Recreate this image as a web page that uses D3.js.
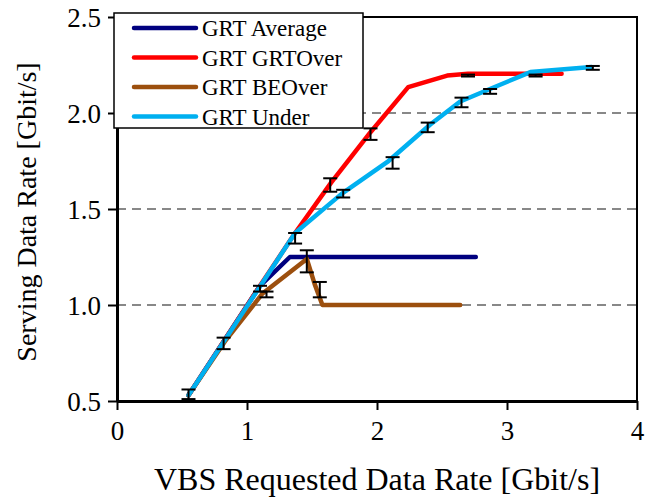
<!DOCTYPE html>
<html>
<head>
<meta charset="utf-8">
<script src="https://cdn.jsdelivr.net/npm/d3@7"></script>
<style>
  body { margin: 0; background: #fff; }
  svg { display: block; }
</style>
</head>
<body>
<div id="chart"></div>
<script>
const xTicks = [0, 1, 2, 3, 4];
const yTicks = [0.5, 1.0, 1.5, 2.0, 2.5];

const seriesNames = ["GRT Average", "GRT GRTOver", "GRT BEOver", "GRT Under"];
const seriesColors = ["#00007f", "#ff0000", "#9c4f0e", "#00b0f0"];

const grtAverage = [[0.55, 0.53], [1.1, 1.1], [1.33, 1.25], [2.76, 1.25]];
const grtOver = [[0.55, 0.53], [1.1, 1.1], [1.37, 1.375], [1.65, 1.64], [1.95, 1.9],
                 [2.24, 2.135], [2.54, 2.195], [2.7, 2.205], [3.2, 2.205], [3.42, 2.205]];
const beOver = [[0.55, 0.53], [0.83, 0.81], [1.12, 1.06], [1.46, 1.24], [1.52, 1.11],
                [1.58, 1.0], [2.64, 1.0]];
const grtUnder = [[0.55, 0.53], [1.37, 1.375], [1.73, 1.58], [2.08, 1.745], [2.41, 1.94],
                  [2.64, 2.06], [2.85, 2.12], [3.18, 2.213], [3.65, 2.24]];

// error bars: requested rate, low, high
const errX    = [0.55, 0.82, 1.1,  1.15, 1.37, 1.46, 1.56, 1.64, 1.74, 1.95, 2.12, 2.39, 2.65, 2.87, 2.7,  3.22, 3.66];
const errLow  = [0.51, 0.77, 1.07, 1.04, 1.32, 1.17, 1.04, 1.59, 1.56, 1.86, 1.71, 1.90, 2.03, 2.10, 2.19, 2.19, 2.225];
const errHigh = [0.56, 0.83, 1.10, 1.07, 1.375, 1.285, 1.12, 1.66, 1.60, 1.92, 1.77, 1.95, 2.08, 2.125, 2.20, 2.20, 2.245];

const width = 662, height = 498;
const margin = { top: 17, right: 25, bottom: 97, left: 117 };
const w = width - margin.left - margin.right;
const h = height - margin.top - margin.bottom;
const font = "'Liberation Serif', 'Times New Roman', serif";

const svg = d3.select("#chart").append("svg")
    .attr("width", width)
    .attr("height", height)
    .style("font-family", font);

const g = svg.append("g").attr("transform", `translate(${margin.left},${margin.top})`);

const x = d3.scaleLinear().domain([0, 4]).range([0, w]);
const y = d3.scaleLinear().domain([0.5, 2.5]).range([h, 0]);

// dashed grid
g.selectAll(".grid")
    .data(yTicks.slice(1, 4))
    .enter().append("line")
    .attr("x1", 0).attr("x2", w)
    .attr("y1", d => y(d)).attr("y2", d => y(d))
    .attr("stroke", "#888")
    .attr("stroke-width", 2)
    .attr("stroke-dasharray", "9,6");

// frame top / right
g.append("path")
    .attr("d", `M0,${y(2.5)}H${w}V${h}`)
    .attr("fill", "none")
    .attr("stroke", "#000")
    .attr("stroke-width", 2);

// axes
const xAxis = g.append("g")
    .attr("transform", `translate(0,${h})`)
    .call(d3.axisBottom(x).tickValues(xTicks).tickFormat(d3.format("d")).tickSize(9).tickSizeOuter(0));
const yAxis = g.append("g")
    .call(d3.axisLeft(y).tickValues(yTicks).tickFormat(d3.format(".1f")).tickSize(9).tickSizeOuter(0));

[xAxis, yAxis].forEach(a => {
    a.attr("font-family", font).attr("font-size", 27);
    a.select(".domain").attr("stroke-width", 3);
    a.selectAll(".tick line").attr("stroke-width", 2);
    a.selectAll("text").attr("fill", "#000");
});
xAxis.selectAll("text").attr("y", 30).attr("dy", "0.35em");
yAxis.selectAll("text").attr("x", -16).attr("dy", "0.35em");

// lines
const line = d3.line().x(d => x(d[0])).y(d => y(d[1]));
const allSeries = [grtAverage, grtOver, beOver, grtUnder];

allSeries.forEach((s, i) => {
    g.append("path")
        .datum(s)
        .attr("fill", "none")
        .attr("stroke", seriesColors[i])
        .attr("stroke-width", 4.5)
        .attr("stroke-linejoin", "round")
        .attr("stroke-linecap", "round")
        .attr("d", line);
});

// error bars
const errs = errX.map((v, i) => ({ x: v, lo: errLow[i], hi: errHigh[i] }));
const eb = g.append("g").attr("stroke", "#000").attr("stroke-width", 2);
errs.forEach(d => {
    eb.append("line").attr("x1", x(d.x)).attr("x2", x(d.x)).attr("y1", y(d.lo)).attr("y2", y(d.hi));
    eb.append("line").attr("x1", x(d.x) - 7).attr("x2", x(d.x) + 7).attr("y1", y(d.lo)).attr("y2", y(d.lo));
    eb.append("line").attr("x1", x(d.x) - 7).attr("x2", x(d.x) + 7).attr("y1", y(d.hi)).attr("y2", y(d.hi));
});

// legend
const legend = svg.append("g").attr("transform", "translate(114,13)");
legend.append("rect")
    .attr("width", 249).attr("height", 115)
    .attr("fill", "#fff")
    .attr("stroke", "#000")
    .attr("stroke-width", 1.5);
seriesNames.forEach((name, i) => {
    const yy = 15 + i * 29.5;
    legend.append("line")
        .attr("x1", 20).attr("x2", 82)
        .attr("y1", yy).attr("y2", yy)
        .attr("stroke", seriesColors[i])
        .attr("stroke-width", 4.5)
        .attr("stroke-linecap", "round");
    legend.append("text")
        .attr("x", 88).attr("y", yy)
        .attr("dy", "0.35em")
        .attr("font-size", "23px")
        .text(name);
});

// axis titles
svg.append("text")
    .attr("x", 377)
    .attr("y", 490)
    .attr("text-anchor", "middle")
    .attr("font-size", "32px")
    .text("VBS Requested Data Rate [Gbit/s]");

svg.append("text")
    .attr("transform", "translate(36,212) rotate(-90)")
    .attr("text-anchor", "middle")
    .attr("font-size", "28px")
    .text("Serving Data Rate [Gbit/s]");
</script>
</body>
</html>
